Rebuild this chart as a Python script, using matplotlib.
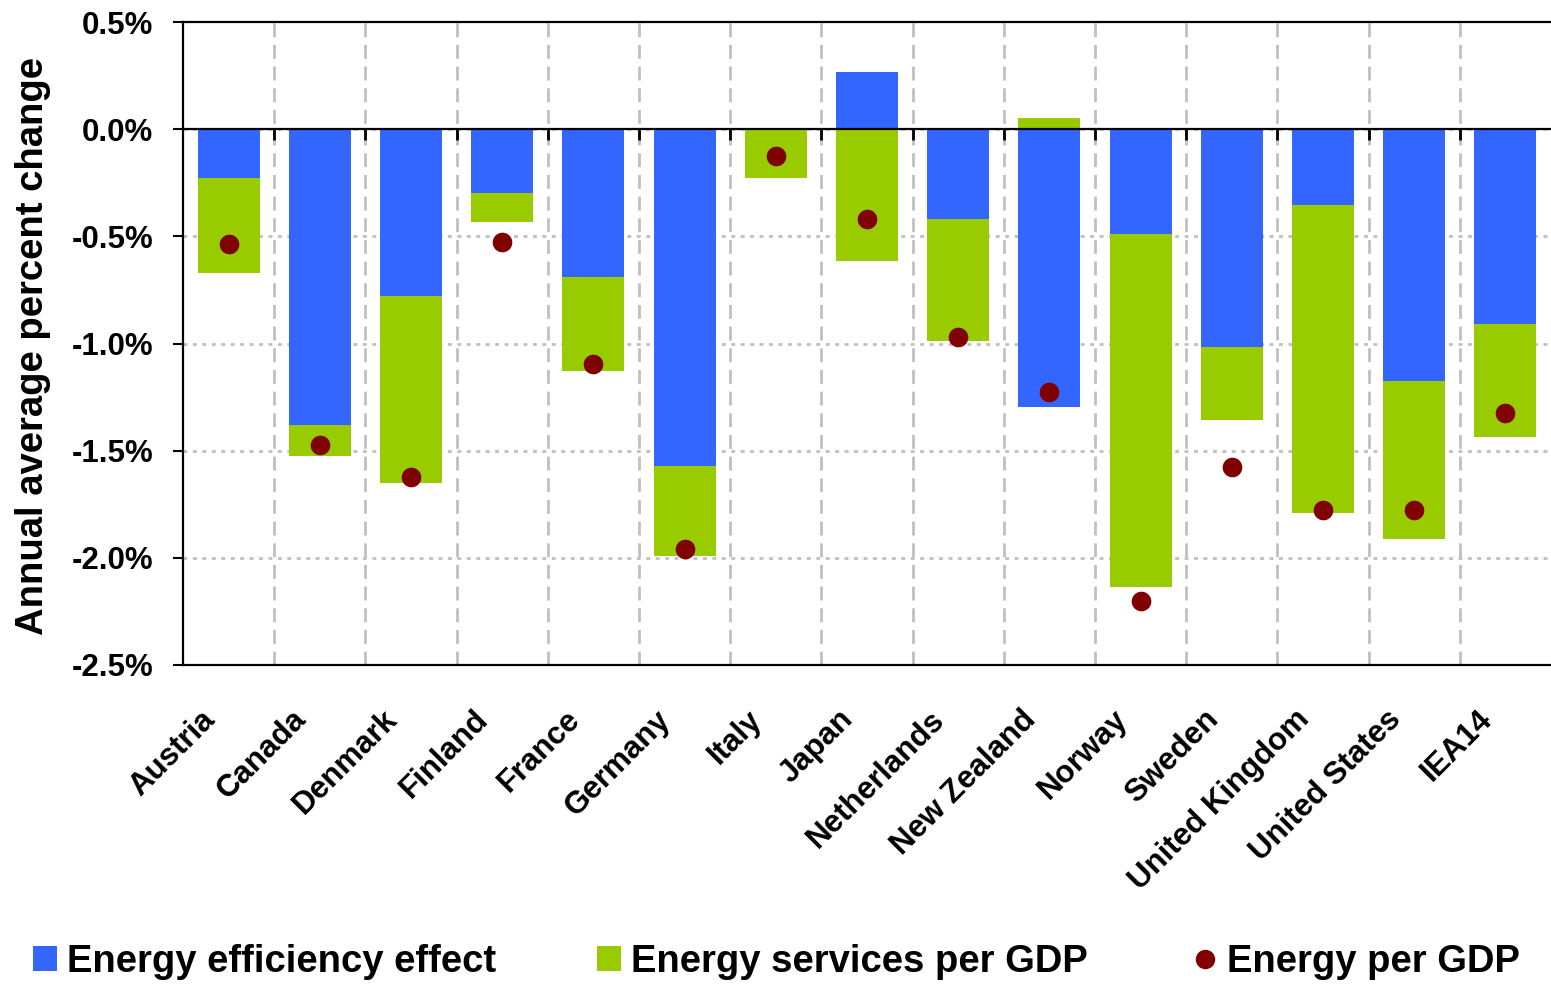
import numpy as np
import matplotlib
matplotlib.use("Agg")
import matplotlib.pyplot as plt
from matplotlib.patches import Patch
from matplotlib.lines import Line2D
from matplotlib.transforms import ScaledTranslation

plt.rcParams['font.family'] = ['Liberation Sans', 'DejaVu Sans']
plt.rcParams['font.weight'] = 'bold'

countries = ["Austria", "Canada", "Denmark", "Finland", "France", "Germany", "Italy",
             "Japan", "Netherlands", "New Zealand", "Norway", "Sweden",
             "United Kingdom", "United States", "IEA14"]
efficiency = [-0.23, -1.38, -0.78, -0.30, -0.69, -1.57, 0.0,
              0.265, -0.42, -1.295, -0.49, -1.015, -0.355, -1.175, -0.91]
services = [-0.44, -0.145, -0.87, -0.135, -0.44, -0.42, -0.23,
            -0.615, -0.57, 0.05, -1.645, -0.34, -1.435, -0.735, -0.525]
energy_per_gdp = [-0.535, -1.475, -1.625, -0.525, -1.095, -1.96, -0.125,
                  -0.42, -0.97, -1.225, -2.2, -1.575, -1.775, -1.775, -1.325]
ytick_vals = [0.5, 0.0, -0.5, -1.0, -1.5, -2.0, -2.5]
ytick_labels = ["0.5%", "0.0%", "-0.5%", "-1.0%", "-1.5%", "-2.0%", "-2.5%"]

BLUE = "#3366FF"
GREEN = "#99CC00"
RED = "#800000"
GRID = "#C0C0C0"

fig = plt.figure(figsize=(15.51, 9.84), dpi=100)
ax = fig.add_axes([183/1551, 1-665/984, 1368/1551, 643/984])

x = np.arange(len(countries))
eff = np.array(efficiency)
srv = np.array(services)
bottom = np.where(np.sign(srv) == np.sign(eff), eff, 0.0)

ax.bar(x, eff, width=0.68, color=BLUE, zorder=2, linewidth=0)
ax.bar(x, srv, bottom=bottom, width=0.68, color=GREEN, zorder=2, linewidth=0)
ax.scatter(x, energy_per_gdp, s=200, color=RED, zorder=4, linewidths=0)

ax.set_xlim(-0.5, len(countries) - 0.5)
ax.set_ylim(-2.5, 0.5)

# gridlines
bounds = np.arange(0.5, len(countries) - 0.5, 1.0)
for b in bounds:
    ax.axvline(b, color=GRID, lw=2, linestyle=(0, (5.0, 2.8)), zorder=1)
for v in ytick_vals[1:-1]:
    ax.axhline(v, color=GRID, lw=2, linestyle=(0, (1.4, 2.0)), zorder=1)

# zero line with ticks
ax.axhline(0, color="black", lw=1.6, zorder=5)
ax.vlines(bounds, -0.052, 0, color="black", lw=2, zorder=5)

ax.set_yticks(ytick_vals)
ax.set_yticklabels(ytick_labels)
ax.tick_params(axis='y', direction='out', length=7.5, width=1.5, pad=14,
               labelsize=22.5)
ax.set_xticks(x)
ax.set_xticklabels(countries, rotation=45, ha='right', va='center',
                   rotation_mode='anchor', fontsize=22.5)
ax.tick_params(axis='x', length=0, pad=36)
offset = ScaledTranslation(-0.18, 0, fig.dpi_scale_trans)
for lab in ax.get_xticklabels():
    lab.set_transform(lab.get_transform() + offset)

for s in ["left", "top", "bottom"]:
    ax.spines[s].set_color("black")
    ax.spines[s].set_linewidth(1.6)
    ax.spines[s].set_zorder(6)
ax.spines["right"].set_visible(False)

fig.text(33/1551, 1-346/984, "Annual average percent change", rotation=90,
         ha='center', va='center', fontsize=27.5, fontweight='bold')

# legend entries
entries = [
    (Patch(facecolor=BLUE, edgecolor='none'), "Energy efficiency effect", 33),
    (Patch(facecolor=GREEN, edgecolor='none'), "Energy services per GDP", 597),
    (Line2D([], [], marker='o', color=RED, linestyle='none', markersize=13), "Energy per GDP", 1193),
]
for h, lbl, px in entries:
    fig.legend([h], [lbl], loc='center left', bbox_to_anchor=(px/1551, 1-962/984),
               frameon=False, borderpad=0, borderaxespad=0, handlelength=0.63,
               handleheight=0.63, handletextpad=0.26,
               prop={'weight': 'bold', 'size': 27.5})

fig.savefig("out.png", dpi=100)
